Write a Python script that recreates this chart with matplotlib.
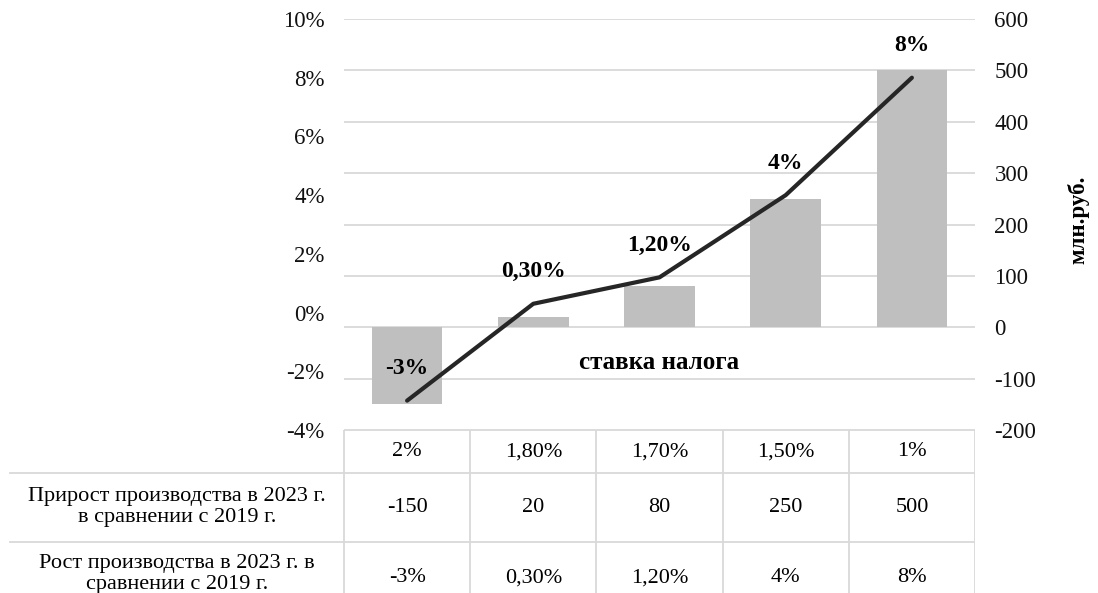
import matplotlib
matplotlib.use('Agg')
import matplotlib.pyplot as plt
import numpy as np

tax_rates = ['2%', '1,80%', '1,70%', '1,50%', '1%']
increase_mln = [-150, 20, 80, 250, 500]
growth_pct = [-3, 0.3, 1.2, 4, 8]
growth_labels = ['-3%', '0,30%', '1,20%', '4%', '8%']
left_ticks = [-4, -2, 0, 2, 4, 6, 8, 10]
right_ticks = [-200, -100, 0, 100, 200, 300, 400, 500, 600]
row1_label = 'Прирост производства в 2023 г.\nв сравнении с 2019 г.'
row2_label = 'Рост производства в 2023 г. в\nсравнении с 2019 г.'
x_title = 'ставка налога'
y2_title = 'млн.руб.'

plt.rcParams['font.family'] = ['Liberation Serif', 'DejaVu Serif']

W, H = 1098, 593
fig = plt.figure(figsize=(W / 100, H / 100), dpi=100)

L, R, T, B = 344, 975, 19, 430
ax = fig.add_axes([L / W, 1 - B / H, (R - L) / W, (B - T) / H])
ax2 = ax.twinx()
x = np.arange(len(tax_rates))

ax2.bar(x, increase_mln, width=0.56, color='#BFBFBF', zorder=2)
ax2.set_ylim(-200, 600)
ax2.set_yticks(right_ticks)
ax2.set_yticklabels([str(v) for v in right_ticks])
ax2.grid(axis='y', color='#D9D9D9', lw=1.3, zorder=0)
ax2.set_axisbelow(True)

ax.set_zorder(ax2.get_zorder() + 1)
ax.patch.set_visible(False)
ax.plot(x, growth_pct, color='#262626', lw=3.0, solid_capstyle='round')
ax.set_ylim(-4, 10)
ax.set_yticks(left_ticks)
ax.set_yticklabels([f'{v}%' for v in left_ticks])
ax.set_xlim(-0.5, 4.5)
ax.set_xticks([])

for a in (ax, ax2):
    for s in a.spines.values():
        s.set_visible(False)
ax.tick_params(axis='y', length=0, pad=14, labelsize=16.5, labelcolor='#111111')
ax2.tick_params(axis='y', length=0, pad=14, labelsize=16.5, labelcolor='#111111')

for xi, yi, lab in zip(x, growth_pct, growth_labels):
    ax.annotate(lab, (xi, yi), xytext=(0, 23), textcoords='offset points',
                ha='center', va='center', fontsize=17, fontweight='bold')

ax.text(2, 0.165, x_title, transform=ax.get_xaxis_transform(), ha='center',
        va='center', fontsize=18, fontweight='bold')

fig.text(1078 / W, 1 - 220 / H, y2_title, rotation=90, ha='center', va='center',
         fontsize=16.5, fontweight='bold')

# table
tax = fig.add_axes([0, 0, R / W, (H - B) / H])
unit = (R - L) / 5
x0 = -0.5 - L / unit
tax.set_xlim(x0, 4.5)
tax.set_ylim(H, B)
tax.axis('off')
gc = '#D9D9D9'
tax.plot([-0.5, 4.5], [B, B], color=gc, lw=1.3)
for yy in (473, 542):
    tax.plot([x0 + 10 / unit, 4.5], [yy, yy], color=gc, lw=1.3)
for xv in np.arange(-0.5, 5.0, 1.0):
    tax.plot([xv, xv], [B, H + 20], color=gc, lw=1.3)

for xi, lab in zip(x, tax_rates):
    tax.text(xi, 452, lab, ha='center', va='center', fontsize=16)
for xi, v in zip(x, increase_mln):
    tax.text(xi, 507, str(v), ha='center', va='center', fontsize=16)
for xi, lab in zip(x, growth_labels):
    tax.text(xi, 578, lab, ha='center', va='center', fontsize=16)

lab_x = (x0 + 10 / unit - 0.5) / 2
tax.text(lab_x, 507, row1_label, ha='center', va='center', fontsize=16,
         linespacing=1.2)
tax.text(lab_x, 574, row2_label, ha='center', va='center', fontsize=16,
         linespacing=1.2, clip_on=False)

fig.savefig('out.png', dpi=100)
